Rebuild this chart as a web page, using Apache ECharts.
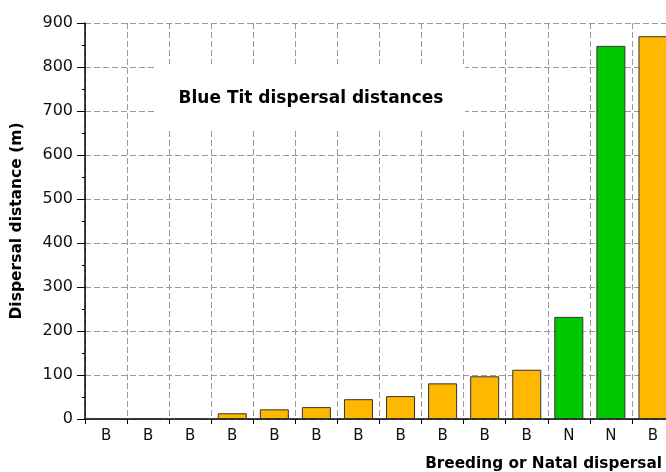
<!DOCTYPE html>
<html>
<head>
<meta charset="utf-8">
<script src="https://cdn.jsdelivr.net/npm/echarts@6/dist/echarts.min.js"></script>
<style>
html,body{margin:0;padding:0;background:#fff;overflow:hidden;}
#chart{width:666px;height:472px;}
</style>
</head>
<body>
<div id="chart"></div>
<script>
const categories = ["B","B","B","B","B","B","B","B","B","B","B","N","N","B"];
const distances = [0, 0, 0, 13, 22, 27, 45, 52, 81, 97, 112, 232, 848, 870];
const yTicks = [0, 100, 200, 300, 400, 500, 600, 700, 800, 900];
const typeColors = { B: "#FFB800", N: "#00C800" };

const FONT = "'DejaVu Sans', sans-serif";
const chart = echarts.init(document.getElementById('chart'), null, {renderer: 'canvas'});

const data = distances.map((v, i) => ({
  value: v,
  itemStyle: { color: typeColors[categories[i]] }
}));

chart.setOption({
  animation: false,
  backgroundColor: '#fff',
  grid: { left: 85, top: 23, width: 589, height: 396, containLabel: false, outerBoundsMode: 'none' },
  xAxis: {
    type: 'category',
    data: categories,
    axisLine: { show: true, onZero: false, lineStyle: { color: '#000', width: 1.5 } },
    axisTick: { show: true, length: 5, lineStyle: { color: '#000' } },
    axisLabel: { fontFamily: FONT, fontSize: 15, color: '#111', margin: 10 },
    splitLine: { show: true, lineStyle: { color: '#999', type: [6, 3], width: 1 } }
  },
  yAxis: {
    type: 'value',
    min: yTicks[0], max: yTicks[yTicks.length - 1], interval: 100,
    name: 'Dispersal distance (m)',
    nameLocation: 'middle',
    nameGap: 60,
    nameTextStyle: { fontFamily: FONT, fontWeight: 'bold', fontSize: 15.5, color: '#000' },
    axisLine: { show: true, lineStyle: { color: '#000', width: 1.5 } },
    axisTick: { show: true, length: 8, lineStyle: { color: '#000' } },
    minorTick: { show: true, splitNumber: 2, length: 3, lineStyle: { color: '#000' } },
    axisLabel: { fontFamily: FONT, fontSize: 16, color: '#111', margin: 12 },
    splitLine: { show: true, lineStyle: { color: '#999', type: [6, 3], width: 1 } }
  },
  graphic: [
    {
      type: 'rect', z: 50,
      shape: { x: 157, y: 64, width: 308, height: 66 },
      style: { fill: '#fff' }
    },
    {
      type: 'text', z: 51,
      x: 311, y: 99,
      style: {
        text: 'Blue Tit dispersal distances',
        fontFamily: FONT, fontWeight: 'bold', fontSize: 17,
        fill: '#000',
        align: 'center', verticalAlign: 'middle'
      }
    },
    {
      type: 'text', z: 51,
      x: 662, y: 464,
      style: {
        text: 'Breeding or Natal dispersal',
        fontFamily: FONT, fontWeight: 'bold', fontSize: 15.3,
        fill: '#000',
        align: 'right', verticalAlign: 'middle'
      }
    }
  ],
  series: [{
    type: 'bar',
    data: data,
    barWidth: 29,
    itemStyle: { borderColor: '#333', borderWidth: 1 }
  }]
});
</script>
</body>
</html>
